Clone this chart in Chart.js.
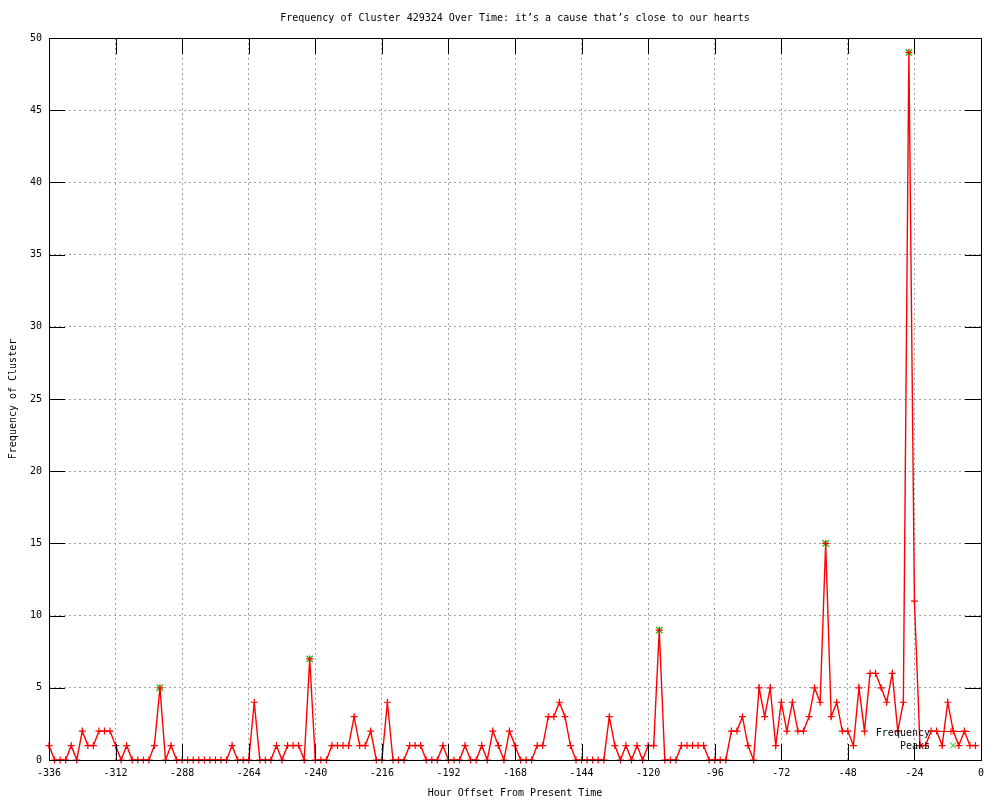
<!DOCTYPE html>
<html>
<head>
<meta charset="utf-8">
<script src="https://cdn.jsdelivr.net/npm/chart.js@4.4.1/dist/chart.umd.min.js"></script>
<style>
  html, body { margin: 0; padding: 0; background: #fff; }
  canvas { display: block; }
</style>
</head>
<body>
<canvas id="myChart" width="1000" height="800"></canvas>
<script>
// hour offsets of each 2h bin
const hours = [
  -336,-334,-332,-330,-328,-326,-324,-322,-320,-318,-316,-314,
  -312,-310,-308,-306,-304,-302,-300,-298,-296,-294,-292,-290,
  -288,-286,-284,-282,-280,-278,-276,-274,-272,-270,-268,-266,
  -264,-262,-260,-258,-256,-254,-252,-250,-248,-246,-244,-242,
  -240,-238,-236,-234,-232,-230,-228,-226,-224,-222,-220,-218,
  -216,-214,-212,-210,-208,-206,-204,-202,-200,-198,-196,-194,
  -192,-190,-188,-186,-184,-182,-180,-178,-176,-174,-172,-170,
  -168,-166,-164,-162,-160,-158,-156,-154,-152,-150,-148,-146,
  -144,-142,-140,-138,-136,-134,-132,-130,-128,-126,-124,-122,
  -120,-118,-116,-114,-112,-110,-108,-106,-104,-102,-100,-98,
  -96,-94,-92,-90,-88,-86,-84,-82,-80,-78,-76,-74,
  -72,-70,-68,-66,-64,-62,-60,-58,-56,-54,-52,-50,
  -48,-46,-44,-42,-40,-38,-36,-34,-32,-30,-28,-26,
  -24,-22,-20,-18,-16,-14,-12,-10,-8,-6,-4,-2
];
const freq = [
  1,0,0,0,1,0,2,1,1,2,2,2,
  1,0,1,0,0,0,0,1,5,0,1,0,
  0,0,0,0,0,0,0,0,0,1,0,0,
  0,4,0,0,0,1,0,1,1,1,0,7,
  0,0,0,1,1,1,1,3,1,1,2,0,
  0,4,0,0,0,1,1,1,0,0,0,1,
  0,0,0,1,0,0,1,0,2,1,0,2,
  1,0,0,0,1,1,3,3,4,3,1,0,
  0,0,0,0,0,3,1,0,1,0,1,0,
  1,1,9,0,0,0,1,1,1,1,1,0,
  0,0,0,2,2,3,1,0,5,3,5,1,
  4,2,4,2,2,3,5,4,15,3,4,2,
  2,1,5,2,6,6,5,4,6,2,4,49,
  11,1,1,2,2,1,4,2,1,2,1,1
];
const peakHours = [-296, -242, -116, -56, -26];
const peakValues = [5, 7, 9, 15, 49];

const titleText = "Frequency of Cluster 429324 Over Time: it\u2019s a cause that\u2019s close to our hearts";
const xTitle = "Hour Offset From Present Time";
const yTitle = "Frequency of Cluster";
const seriesNames = ["Frequency", "Peaks"];

const FONT = "10px 'DejaVu Sans Mono', monospace";
const RED = "#ff0000";
const GREEN = "#00c000";

function toPoints(xs, ys) {
  return xs.map((x, i) => ({ x: x, y: ys[i] }));
}

// border, inward ticks on all four sides, texts and the gnuplot style key
const gnuFrame = {
  id: "gnuFrame",
  afterDatasetsDraw(chart) {
    const ctx = chart.ctx;
    const a = chart.chartArea;
    const xs = chart.scales.x;
    const ys = chart.scales.y;
    const tl = 16;
    ctx.save();
    ctx.strokeStyle = "#000";
    ctx.lineWidth = 1;
    ctx.setLineDash([]);
    ctx.beginPath();
    xs.ticks.forEach(t => {
      const px = Math.round(xs.getPixelForValue(t.value)) + 0.5;
      ctx.moveTo(px, a.bottom);
      ctx.lineTo(px, a.bottom - tl);
      ctx.moveTo(px, a.top);
      ctx.lineTo(px, a.top + tl);
    });
    ys.ticks.forEach(t => {
      const py = Math.round(ys.getPixelForValue(t.value)) + 0.5;
      ctx.moveTo(a.left, py);
      ctx.lineTo(a.left + tl, py);
      ctx.moveTo(a.right, py);
      ctx.lineTo(a.right - tl, py);
    });
    ctx.stroke();
    ctx.strokeRect(Math.round(a.left) + 0.5, Math.round(a.top) + 0.5,
      Math.round(a.right - a.left), Math.round(a.bottom - a.top));
    ctx.restore();
  },
  afterDraw(chart) {
    const ctx = chart.ctx;
    const a = chart.chartArea;
    const cx = (a.left + a.right) / 2;
    ctx.save();
    ctx.font = FONT;
    ctx.fillStyle = "#000";
    ctx.textBaseline = "middle";
    ctx.textAlign = "center";
    ctx.fillText(titleText, cx, 18);
    ctx.fillText(xTitle, cx, 793);
    ctx.save();
    ctx.translate(13, (a.top + a.bottom) / 2);
    ctx.rotate(-Math.PI / 2);
    ctx.fillText(yTitle, 0, 0);
    ctx.restore();

    // key
    ctx.textAlign = "right";
    ctx.fillText(seriesNames[0], 930, 733);
    ctx.fillText(seriesNames[1], 930, 746);
    ctx.lineWidth = 1;
    ctx.strokeStyle = RED;
    ctx.beginPath();
    ctx.moveTo(933, 731.5);
    ctx.lineTo(970, 731.5);
    ctx.moveTo(951, 728);
    ctx.lineTo(951, 735);
    ctx.stroke();
    ctx.strokeStyle = GREEN;
    ctx.beginPath();
    ctx.moveTo(950, 742.5);
    ctx.lineTo(956, 748.5);
    ctx.moveTo(956, 742.5);
    ctx.lineTo(950, 748.5);
    ctx.stroke();
    ctx.restore();
  }
};

const gridStyle = { color: "#a0a0a0", lineWidth: 1, drawTicks: false, tickLength: 0 };
const tickFont = { family: "'DejaVu Sans Mono', monospace", size: 10 };

const ctx = document.getElementById("myChart").getContext("2d");
const chart = new Chart(ctx, {
  type: "line",
  data: {
    datasets: [
      {
        label: seriesNames[0],
        data: toPoints(hours, freq),
        borderColor: RED,
        borderWidth: 1.4,
        pointStyle: "cross",
        pointRadius: 3.5,
        pointBorderColor: RED,
        pointBorderWidth: 1.2,
        tension: 0,
        fill: false,
        clip: false
      },
      {
        label: seriesNames[1],
        data: toPoints(peakHours, peakValues),
        showLine: false,
        pointStyle: "crossRot",
        pointRadius: 4.5,
        pointBorderColor: GREEN,
        pointBackgroundColor: GREEN,
        pointBorderWidth: 1.2,
        clip: false
      }
    ]
  },
  options: {
    responsive: false,
    animation: false,
    events: [],
    layout: { padding: { top: 38, right: 19, left: 0, bottom: 0 } },
    plugins: {
      legend: { display: false },
      title: { display: false },
      tooltip: { enabled: false }
    },
    scales: {
      x: {
        type: "linear",
        position: "bottom",
        min: -336,
        max: 0,
        grid: gridStyle,
        border: { display: false, dash: [2, 3] },
        ticks: {
          stepSize: 24,
          autoSkip: false,
          maxRotation: 0,
          padding: 7,
          color: "#000",
          font: tickFont,
          callback: v => String(v)
        },
        afterFit: s => { s.height = 40; }
      },
      y: {
        type: "linear",
        min: 0,
        max: 50,
        grid: gridStyle,
        border: { display: false, dash: [2, 3] },
        ticks: {
          stepSize: 5,
          padding: 7,
          color: "#000",
          font: tickFont,
          callback: v => String(v)
        },
        afterFit: s => { s.width = 49; }
      }
    }
  },
  plugins: [gnuFrame]
});
</script>
</body>
</html>
